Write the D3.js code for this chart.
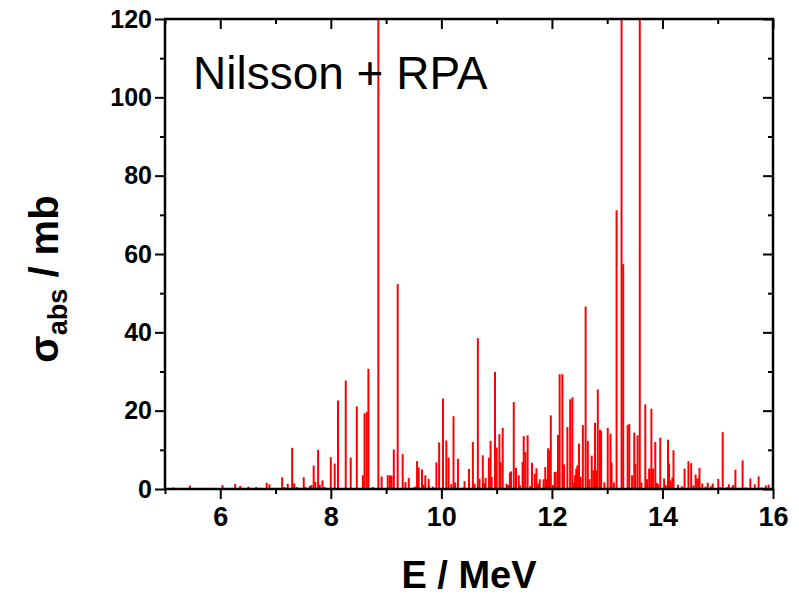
<!DOCTYPE html>
<html>
<head>
<meta charset="utf-8">
<script src="https://cdn.jsdelivr.net/npm/d3@7"></script>
<style>
  body { margin: 0; background: #fff; }
  svg { display: block; }
  .axis text { font-family: 'Liberation Sans', Arial, sans-serif; font-weight: bold; fill: #000; }
</style>
</head>
<body>
<div id="chart"></div>
<script>
// -------- Data --------
const energy = [
  5.15, 5.26, 5.45, 5.69, 5.80, 6.04, 6.27, 6.36, 6.39, 6.51, 6.65, 6.72, 6.84, 6.89,
  7.12, 7.16, 7.22, 7.30, 7.32, 7.34, 7.38, 7.42, 7.51, 7.54, 7.62, 7.65, 7.69, 7.72,
  7.77, 7.80, 7.85, 7.89, 8.00, 8.07, 8.13, 8.27, 8.36, 8.47, 8.58, 8.61, 8.65, 8.68,
  8.76, 8.86, 8.92, 9.03, 9.07, 9.10, 9.14, 9.21, 9.30, 9.35, 9.41, 9.48, 9.52, 9.56,
  9.59, 9.65, 9.68, 9.71, 9.77, 9.78, 9.85, 9.91, 9.96, 10.03, 10.09, 10.13, 10.18,
  10.22, 10.25, 10.30, 10.38, 10.42, 10.50, 10.57, 10.60, 10.66, 10.69, 10.75, 10.78,
  10.80, 10.86, 10.89, 10.91, 10.97, 11.00, 11.05, 11.07, 11.11, 11.18, 11.21, 11.24,
  11.26, 11.31, 11.35, 11.40, 11.42, 11.47, 11.49, 11.52, 11.56, 11.61, 11.64, 11.69,
  11.72, 11.75, 11.78, 11.85, 11.88, 11.91, 11.93, 11.96, 11.98, 12.02, 12.05, 12.07,
  12.11, 12.14, 12.19, 12.22, 12.28, 12.33, 12.37, 12.40, 12.42, 12.44, 12.46, 12.49,
  12.52, 12.56, 12.61, 12.65, 12.68, 12.72, 12.75, 12.78, 12.80, 12.83, 12.87, 12.89,
  12.95, 13.01, 13.06, 13.08, 13.12, 13.17, 13.26, 13.29, 13.37, 13.40, 13.45, 13.49,
  13.51, 13.55, 13.59, 13.62, 13.69, 13.72, 13.76, 13.77, 13.80, 13.83, 13.87, 13.90,
  13.92, 13.96, 14.03, 14.06, 14.10, 14.12, 14.15, 14.18, 14.20, 14.28, 14.35, 14.40,
  14.47, 14.52, 14.56, 14.60, 14.62, 14.65, 14.67, 14.72, 14.78, 14.82, 14.88, 14.91,
  15.01, 15.04, 15.09, 15.16, 15.20, 15.26, 15.28, 15.32, 15.38, 15.45, 15.51, 15.59,
  15.67, 15.74, 15.79, 15.87, 15.92
];
const sigma = [
  0.4, 0.2, 0.9, 0.2, 0.2, 1.0, 1.3, 0.8, 0.3, 0.6, 0.5, 0.3, 1.6, 1.2,
  3.0, 0.5, 1.3, 10.5, 1.4, 1.4, 0.5, 0.3, 3.0, 0.5, 0.8, 1.0, 6.0, 1.8,
  10.0, 1.1, 2.2, 0.5, 8.1, 6.5, 22.6, 27.7, 8.0, 21.1, 3.5, 19.3, 19.7, 30.7,
  0.5, 160, 3.2, 3.5, 3.5, 3.4, 10.1, 52.3, 8.9, 1.8, 2.8, 0.3, 0.6, 7.1,
  5.5, 5.0, 1.1, 3.5, 2.6, 0.8, 0.6, 6.8, 11.9, 23.1, 12.4, 8.0, 1.2,
  18.6, 1.7, 7.7, 0.3, 2.0, 5.1, 12.0, 1.3, 38.5, 2.6, 8.6, 1.5,
  2.8, 8.0, 12.3, 3.1, 29.9, 10.6, 14.0, 6.9, 15.6, 1.3, 1.0, 4.2,
  4.5, 22.2, 5.4, 3.5, 1.0, 6.9, 13.5, 9.4, 13.7, 0.8, 6.7, 3.9,
  5.3, 1.4, 2.5, 2.5, 5.6, 2.5, 10.4, 9.8, 18.8, 1.0, 4.3, 4.4,
  13.8, 29.3, 29.3, 6.3, 15.8, 22.9, 23.4, 1.6, 3.5, 5.2, 6.0, 11.6,
  3.1, 16.3, 46.6, 12.3, 2.5, 8.5, 4.8, 16.9, 4.8, 25.4, 15.1, 14.8,
  1.7, 15.6, 14.1, 6.8, 1.7, 71.2, 200, 57.4, 16.3, 16.6, 3.5, 14.4,
  6.4, 13.7, 170, 1.7, 21.6, 2.5, 5.2, 5.2, 20.5, 5.2, 12.0, 1.6,
  1.2, 13.1, 2.7, 1.0, 12.6, 6.5, 2.2, 2.9, 9.9, 1.1, 0.7, 5.2,
  7.1, 6.6, 0.9, 3.7, 2.6, 2.8, 5.4, 1.4, 0.6, 1.6, 0.7, 1.4,
  2.6, 0.5, 14.5, 0.5, 1.2, 0.5, 1.0, 4.9, 0.3, 7.3, 0.4, 2.7,
  1.2, 3.2, 0.4, 0.9, 1.1
];
const xMajorTicks = [6, 8, 10, 12, 14, 16];
const xMinorTicks = [5, 7, 9, 11, 13, 15];
const yMajorTicks = [0, 20, 40, 60, 80, 100, 120];
const yMinorTicks = [10, 30, 50, 70, 90, 110];

// -------- Margins & Dimensions --------
const margin = { top: 19, right: 26, bottom: 106, left: 165 };
const svgWidth = 799;
const svgHeight = 595;
const width = svgWidth - margin.left - margin.right;
const height = svgHeight - margin.top - margin.bottom;

const svg = d3.select('#chart')
  .append('svg')
    .attr('width', svgWidth)
    .attr('height', svgHeight);

const ctr = svg.append('g')
    .attr('transform', `translate(${margin.left},${margin.top})`);

// -------- Scales --------
const xScale = d3.scaleLinear().domain([5, 16]).range([0, width]);
const yScale = d3.scaleLinear().domain([0, 120]).range([height, 0]);

// -------- Bars (clipped to frame) --------
ctr.append('clipPath')
    .attr('id', 'plot-clip')
  .append('rect')
    .attr('width', width)
    .attr('height', height);

ctr.append('g')
    .attr('clip-path', 'url(#plot-clip)')
  .selectAll('line')
  .data(d3.range(energy.length))
  .join('line')
    .attr('x1', i => xScale(energy[i]))
    .attr('x2', i => xScale(energy[i]))
    .attr('y1', yScale(0))
    .attr('y2', i => yScale(sigma[i]))
    .attr('stroke', '#ff0000')
    .attr('stroke-width', 2);

// -------- Axes --------
function styleAxis(g) {
  g.select('.domain').remove();
  g.selectAll('line').attr('stroke', '#000').attr('stroke-width', 2);
}

// bottom (outward ticks, labels)
ctr.append('g')
    .attr('class', 'axis')
    .attr('transform', `translate(0,${height})`)
    .call(d3.axisBottom(xScale).tickValues(xMajorTicks).tickFormat(d3.format('d'))
      .tickSize(10).tickPadding(8))
    .call(styleAxis)
    .call(g => g.selectAll('text').style('font-size', '27px'));
ctr.append('g')
    .attr('transform', `translate(0,${height})`)
    .call(d3.axisBottom(xScale).tickValues(xMinorTicks).tickFormat('').tickSize(5))
    .call(styleAxis);

// top (inward ticks)
ctr.append('g')
    .call(d3.axisBottom(xScale).tickValues(xMajorTicks).tickFormat('').tickSize(10))
    .call(styleAxis);
ctr.append('g')
    .call(d3.axisBottom(xScale).tickValues(xMinorTicks).tickFormat('').tickSize(5))
    .call(styleAxis);

// left (outward ticks, labels)
ctr.append('g')
    .attr('class', 'axis')
    .call(d3.axisLeft(yScale).tickValues(yMajorTicks).tickFormat(d3.format('d'))
      .tickSize(10).tickPadding(3))
    .call(styleAxis)
    .call(g => g.selectAll('text').style('font-size', '25px'));
ctr.append('g')
    .call(d3.axisLeft(yScale).tickValues(yMinorTicks).tickFormat('').tickSize(5))
    .call(styleAxis);

// right (inward ticks)
ctr.append('g')
    .attr('transform', `translate(${width},0)`)
    .call(d3.axisLeft(yScale).tickValues(yMajorTicks).tickFormat('').tickSize(10))
    .call(styleAxis);
ctr.append('g')
    .attr('transform', `translate(${width},0)`)
    .call(d3.axisLeft(yScale).tickValues(yMinorTicks).tickFormat('').tickSize(5))
    .call(styleAxis);

// frame
ctr.append('rect')
    .attr('width', width)
    .attr('height', height)
    .attr('fill', 'none')
    .attr('stroke', '#000')
    .attr('stroke-width', 2.5);

// -------- Labels --------
const font = "'Liberation Sans', Arial, sans-serif";

svg.append('text')
    .attr('x', margin.left + width / 2)
    .attr('y', 588)
    .attr('text-anchor', 'middle')
    .style('font-family', font)
    .style('font-weight', 'bold')
    .style('font-size', '38px')
    .text('E / MeV');

const yTitle = svg.append('text')
    .attr('transform', 'translate(58,279) rotate(-90)')
    .attr('text-anchor', 'middle')
    .style('font-family', font)
    .style('font-weight', 'bold')
    .style('font-size', '40px');
yTitle.append('tspan').text('σ');
yTitle.append('tspan').attr('dy', 9).style('font-size', '27px').text('abs');
yTitle.append('tspan').attr('dy', -9).text(' / mb');

svg.append('text')
    .attr('x', 193)
    .attr('y', 89)
    .style('font-family', font)
    .style('font-size', '46px')
    .text('Nilsson + RPA');
</script>
</body>
</html>
